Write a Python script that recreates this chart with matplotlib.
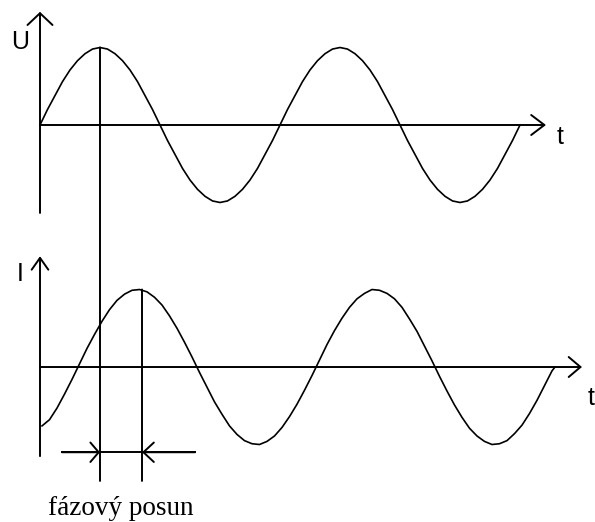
import matplotlib
matplotlib.use("Agg")
import matplotlib.pyplot as plt
from matplotlib.patches import ConnectionPatch

# time axis in degrees of the U wave (0 at the vertical axis)
u_angle = [0, 11.25, 22.5, 33.75, 45, 56.25, 67.5, 78.75, 90, 101.25, 112.5,
           123.75, 135, 146.25, 157.5, 168.75, 180, 191.25, 202.5, 213.75,
           225, 236.25, 247.5, 258.75, 270, 281.25, 292.5, 303.75, 315,
           326.25, 337.5, 348.75, 360, 371.25, 382.5, 393.75, 405, 416.25,
           427.5, 438.75, 450, 461.25, 472.5, 483.75, 495, 506.25, 517.5,
           528.75, 540, 551.25, 562.5, 573.75, 585, 596.25, 607.5, 618.75,
           630, 641.25, 652.5, 663.75, 675, 686.25, 697.5, 708.75, 720]
u_values = [0, .20, .38, .56, .71, .83, .92, .98, 1, .98, .92, .83, .71, .56,
            .38, .20, 0, -.20, -.38, -.56, -.71, -.83, -.92, -.98, -1, -.98,
            -.92, -.83, -.71, -.56, -.38, -.20, 0, .20, .38, .56, .71, .83,
            .92, .98, 1, .98, .92, .83, .71, .56, .38, .20, 0, -.20, -.38,
            -.56, -.71, -.83, -.92, -.98, -1, -.98, -.92, -.83, -.71, -.56,
            -.38, -.20, 0]

i_angle = [3, 14.25, 25.5, 36.75, 48, 59.25, 70.5, 81.75, 93, 104.25, 115.5,
           126.75, 138, 149.25, 160.5, 171.75, 183, 194.25, 205.5, 216.75,
           228, 239.25, 250.5, 261.75, 273, 284.25, 295.5, 306.75, 318,
           329.25, 340.5, 351.75, 363, 374.25, 385.5, 396.75, 408, 419.25,
           430.5, 441.75, 453, 464.25, 475.5, 486.75, 498, 509.25, 520.5,
           531.75, 543, 554.25, 565.5, 576.75, 588, 599.25, 610.5, 621.75,
           633, 644.25, 655.5, 666.75, 678, 689.25, 700.5, 711.75, 723,
           734.25, 745.5, 756.75, 768, 772.5]
i_values = [-.76, -.68, -.53, -.35, -.16, .04, .24, .42, .59, .74, .86, .94,
            .99, 1.0, .97, .90, .80, .66, .50, .32, .13, -.07, -.26, -.45,
            -.61, -.76, -.87, -.95, -.99, -1.0, -.96, -.89, -.78, -.64, -.48,
            -.30, -.11, .09, .29, .47, .63, .77, .88, .95, 1.0, .99, .95,
            .88, .77, .62, .46, .27, .08, -.12, -.31, -.49, -.65, -.79, -.89,
            -.96, -1.0, -.99, -.95, -.86, -.75, -.60, -.43, -.24, -.05, 0]

u_peak = 90      # where U peaks
i_peak = 153     # where I peaks
shift_label = "fázový posun"

fig = plt.figure(figsize=(5.95, 5.22), dpi=100)
ax1 = fig.add_axes([0, 282 / 522, 1, 240 / 522])
ax2 = fig.add_axes([0, 0, 1, 282 / 522])
ax1.set_xlim(-60, 832.5)
ax1.set_ylim(-1.484, 1.613)
ax2.set_xlim(-60, 832.5)
ax2.set_ylim(-2.0, 1.639)
for ax in (ax1, ax2):
    ax.axis("off")

axis_lw = 1.4
curve_lw = 1.2
sans = "Liberation Sans"


def arrow(ax, tail, tip, hl, hw):
    ax.annotate("", xy=tip, xytext=tail,
                arrowprops=dict(arrowstyle=f"->,head_length={hl},head_width={hw}",
                                lw=axis_lw, color="black", shrinkA=0, shrinkB=0,
                                mutation_scale=10))


# upper panel: U
arrow(ax1, (0, -1.135), (0, 1.46), 0.85, 0.9)
arrow(ax1, (0, 0), (759, 0), 0.95, 0.72)
ax1.plot(u_angle, u_values, color="black", lw=curve_lw)
ax1.text(-30, 1.07, "U", fontsize=18, family=sans, ha="center", va="center")
ax1.text(780, -0.16, "t", fontsize=18, family=sans, ha="center", va="center")

# lower panel: I
arrow(ax2, (0, -1.15), (0, 1.43), 0.85, 0.6)
arrow(ax2, (0, 0), (813, 0), 0.85, 0.72)
ax2.plot(i_angle, i_values, color="black", lw=curve_lw)
ax2.text(-30, 1.2, "I", fontsize=18, family=sans, ha="center", va="center")
ax2.text(826, -0.4, "t", fontsize=18, family=sans, ha="center", va="center")

# marker lines through the peaks
for ax_top, peak in ((ax1, u_peak), (ax2, i_peak)):
    con = ConnectionPatch(xyA=(peak, 1.0), coordsA=ax_top.transData,
                          xyB=(peak, -1.47), coordsB=ax2.transData,
                          color="black", lw=axis_lw)
    fig.add_artist(con)

# phase shift dimension
dim_y = -1.10
ax2.plot([33, 232.5], [dim_y, dim_y], color="black", lw=axis_lw)
ax2.annotate("", xy=(u_peak, dim_y), xytext=(33, dim_y),
             arrowprops=dict(arrowstyle="->,head_length=0.6,head_width=0.7",
                             lw=axis_lw, color="black", shrinkA=0, shrinkB=0,
                             mutation_scale=10))
ax2.annotate("", xy=(i_peak, dim_y), xytext=(232.5, dim_y),
             arrowprops=dict(arrowstyle="->,head_length=0.75,head_width=0.7",
                             lw=axis_lw, color="black", shrinkA=0, shrinkB=0,
                             mutation_scale=10))
ax2.text(121.5, -1.82, shift_label, fontsize=19.5, family="Liberation Serif",
         ha="center", va="center")

fig.savefig("out.png", dpi=100, facecolor="white")
